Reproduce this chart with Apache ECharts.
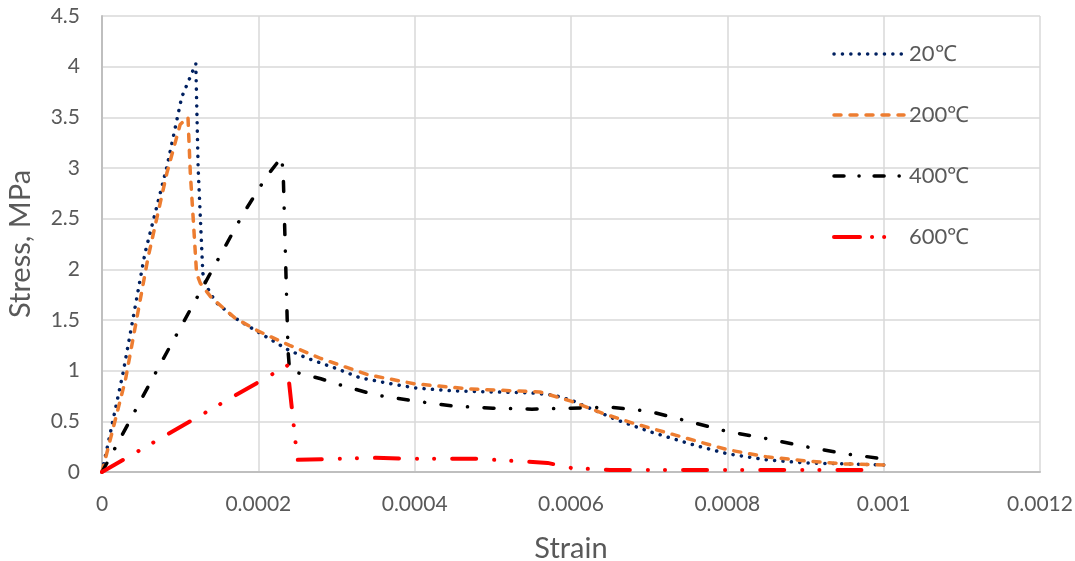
<!DOCTYPE html>
<html>
<head>
<meta charset="utf-8">
<script src="https://cdn.jsdelivr.net/npm/echarts@6/dist/echarts.min.js"></script>
<style>html,body{margin:0;padding:0;background:#fff}#c{width:1075px;height:561px}</style>
</head>
<body>
<div id="c"></div>
<script>
const seriesNames = ['20℃', '200℃', '400℃', '600℃'];
const xTicks = { min: 0, max: 0.0012, interval: 0.0002 };
const yTicks = { min: 0, max: 4.5, interval: 0.5 };

const strain20 = [0,0.000027,0.000055,0.000083,0.000102,0.00012,0.000123,0.000129,0.000134,0.000145,0.00017,0.0002,0.000237,0.00026,0.0003,0.00033,0.00037,0.0004,0.00045,0.0005,0.00055,0.000577,0.0006,0.00066,0.0007,0.00076,0.0008,0.00085,0.0009,0.00095,0.001];
const stress20 = [0,0.98,2.16,3.01,3.70,4.03,3.0,1.96,1.83,1.68,1.52,1.38,1.21,1.13,1.02,0.93,0.87,0.83,0.80,0.79,0.78,0.76,0.71,0.51,0.40,0.26,0.18,0.12,0.09,0.08,0.07];

const strain200 = [0,0.00003,0.000059,0.000083,0.0001,0.00011,0.000113,0.000117,0.000121,0.000126,0.00014,0.00017,0.0002,0.00024,0.00028,0.00034,0.0004,0.00047,0.00056,0.0006,0.00064,0.00068,0.00074,0.0008,0.00085,0.0009,0.00095,0.001];
const stress200 = [0,0.91,2.12,2.95,3.43,3.50,2.95,2.46,1.96,1.86,1.72,1.52,1.39,1.25,1.12,0.96,0.87,0.82,0.79,0.70,0.58,0.48,0.35,0.22,0.15,0.11,0.08,0.07];

const strain400 = [0,0.000017,0.00007,0.000125,0.00018,0.00021,0.00023,0.000232,0.000238,0.00024,0.00028,0.0003,0.00035,0.0004,0.00045,0.0005,0.00055,0.0006,0.00065,0.0007,0.00075,0.0008,0.00085,0.0009,0.00095,0.001];
const stress400 = [0,0.24,1.0,1.77,2.54,2.91,3.11,2.9,1.2,1.0,0.92,0.87,0.76,0.70,0.65,0.63,0.62,0.63,0.64,0.60,0.50,0.40,0.33,0.25,0.18,0.13];

const strain600 = [0,0.000237,0.00025,0.0003,0.00035,0.0004,0.00048,0.00057,0.0006,0.00065,0.0008,0.00098];
const stress600 = [0,1.05,0.12,0.13,0.14,0.13,0.13,0.09,0.04,0.02,0.02,0.02];

const colors = ['#002060', '#ED7D31', '#000000', '#FF0000'];
const dashes = [[0.1, 8.3], [7, 9], [10, 16.5, 0.1, 16.5], [24, 18, 0.1, 17, 0.1, 18]];
const widths = [3.5, 3.5, 3.5, 4];
const legendDashes = [[0.1, 8.3], [7, 9], [10, 15, 0.1, 15], [26, 12, 0.1, 12, 0.1, 40]];

const pairs = [[strain20, stress20], [strain200, stress200], [strain400, stress400], [strain600, stress600]];

const chart = echarts.init(document.getElementById('c'));
const font = 'Lato, "Liberation Sans", sans-serif';
chart.setOption({
  animation: false,
  backgroundColor: '#fff',
  textStyle: { fontFamily: font },
  grid: { left: 102, right: 35, top: 16, bottom: 89, containLabel: false, outerBoundsMode: 'none' },
  legend: {
    orient: 'vertical',
    left: 827, top: 38,
    itemWidth: 70, itemHeight: 14, itemGap: 39,
    textStyle: { color: '#595959', fontSize: 22, fontFamily: font },
    data: seriesNames.map((n, i) => ({
      name: n,
      itemStyle: { color: 'rgba(0,0,0,0)', borderColor: 'rgba(0,0,0,0)', borderWidth: 0 },
      lineStyle: { color: colors[i], width: widths[i], type: legendDashes[i], cap: 'round', opacity: 1 }
    }))
  },
  xAxis: {
    type: 'value', min: xTicks.min, max: xTicks.max, interval: xTicks.interval,
    name: 'Strain', nameLocation: 'middle', nameGap: 62,
    nameTextStyle: { color: '#595959', fontSize: 29, fontFamily: font },
    axisLine: { show: true, lineStyle: { color: '#bfbfbf', width: 2 } },
    axisTick: { show: false },
    axisLabel: { color: '#595959', fontSize: 21, margin: 22, formatter: v => String(+v.toFixed(5)) },
    splitLine: { show: true, lineStyle: { color: '#d9d9d9', width: 1.5 } }
  },
  yAxis: {
    type: 'value', min: yTicks.min, max: yTicks.max, interval: yTicks.interval,
    name: 'Stress, MPa', nameLocation: 'middle', nameGap: 67, nameRotate: 90,
    nameTextStyle: { color: '#595959', fontSize: 29, fontFamily: font },
    axisLine: { show: true, lineStyle: { color: '#bfbfbf', width: 2 } },
    axisTick: { show: false },
    axisLabel: { color: '#595959', fontSize: 21, margin: 22, formatter: v => String(+v.toFixed(2)) },
    splitLine: { show: true, lineStyle: { color: '#d9d9d9', width: 1.5 } }
  },
  series: seriesNames.map((n, i) => ({
    name: n, type: 'line', symbol: 'none', smooth: false,
    data: pairs[i][0].map((x, j) => [x, pairs[i][1][j]]),
    itemStyle: { color: colors[i] },
    lineStyle: { color: colors[i], width: widths[i], type: dashes[i], cap: 'round', join: 'round' }
  }))
});
</script>
</body>
</html>
